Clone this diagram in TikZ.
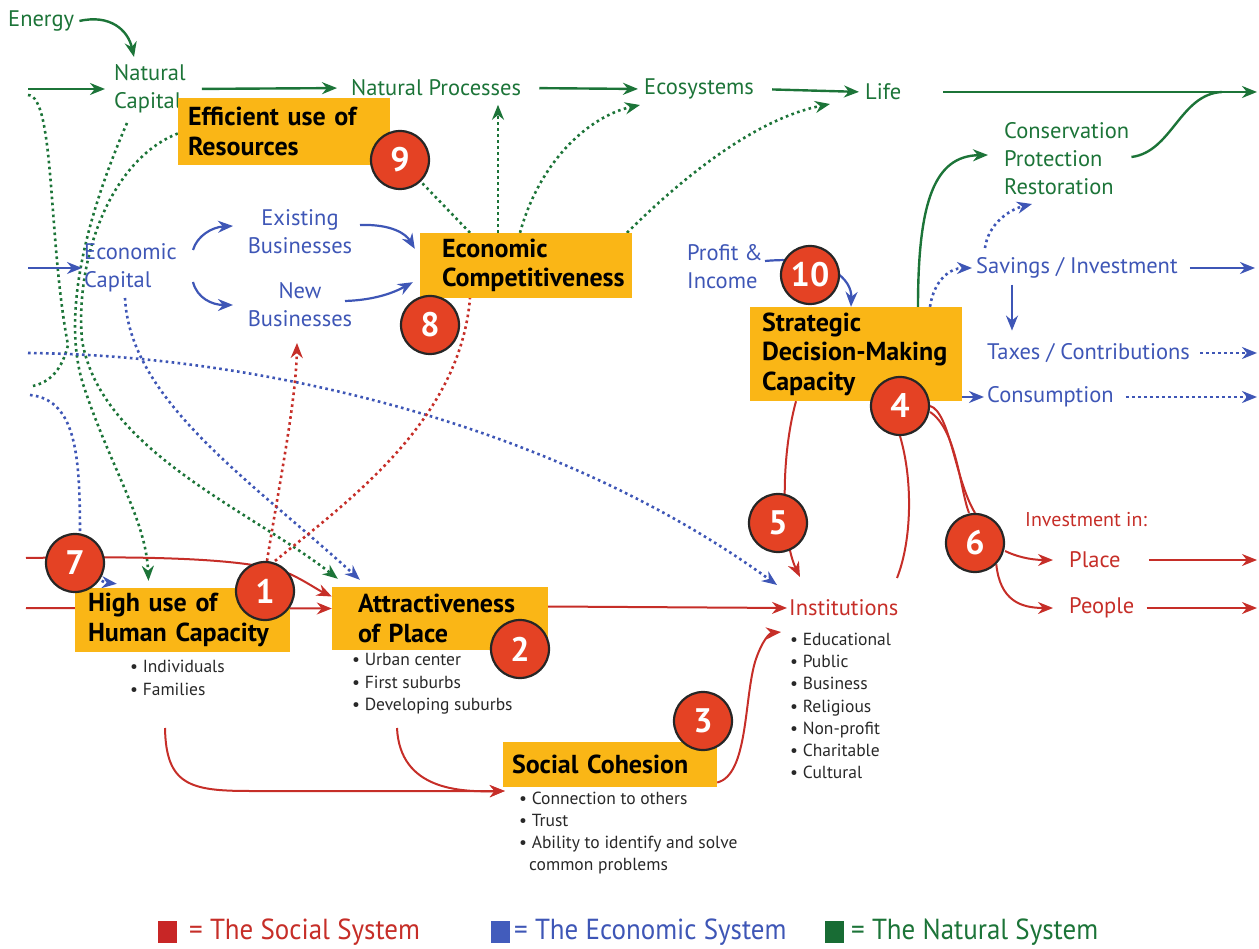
\documentclass[tikz,border=0pt]{standalone}
\usepackage{fontspec}
\setmainfont{PT Sans}
\newfontfamily\legendfont[FakeStretch=0.93]{PT Sans}
\usetikzlibrary{arrows.meta}
\pgfdeclarelayer{links}
\pgfsetlayers{links,main}
\definecolor{natgreen}{RGB}{28,116,56}
\definecolor{ecoblue}{RGB}{62,86,182}
\definecolor{socred}{RGB}{198,46,40}
\definecolor{boxgold}{RGB}{250,182,22}
\definecolor{numred}{RGB}{228,66,36}
\definecolor{bullettxt}{RGB}{40,40,40}
\definecolor{keyred}{RGB}{200,38,38}
\definecolor{keyblue}{RGB}{66,92,188}
\definecolor{keygreen}{RGB}{24,108,52}

\begin{document}
\begin{tikzpicture}[x=1pt,y=-1pt,
  >={Stealth[length=15pt,width=12pt]},
  lbl/.style={inner sep=2pt,anchor=west,align=left,font=\fontsize{22.5}{28}\selectfont},
  gtxt/.style={lbl,text=natgreen},
  btxt/.style={lbl,text=ecoblue},
  rtxt/.style={lbl,text=socred},
  goldbox/.style={fill=boxgold,inner ysep=0pt,align=left,font=\fontsize{26}{29.5}\selectfont\bfseries},
  blist/.style={inner sep=0pt,anchor=west,align=left,text=bullettxt,font=\fontsize{17.5}{22.3}\selectfont},
  num/.style={circle,draw=black!85,line width=2.2pt,fill=numred,text=white,minimum size=58pt,inner sep=0pt,font=\fontsize{34}{34}\selectfont\bfseries},
  gsolid/.style={draw=natgreen,line width=2.4pt},
  bsolid/.style={draw=ecoblue,line width=2.2pt},
  rsolid/.style={draw=socred,line width=2pt},
  dotline/.style={line width=2.6pt,dash pattern=on 2.6pt off 3.4pt},
  gdot/.style={dotline,draw=natgreen},
  bdot/.style={dotline,draw=ecoblue},
  rdot/.style={dotline,draw=socred},
  keysq/.style={minimum width=19pt,minimum height=22pt,inner sep=0pt},
  keytxt/.style={anchor=west,inner sep=0pt,font=\legendfont\fontsize{29}{29}\selectfont}
]
\useasboundingbox (0,0) rectangle (1259,949);

% ---------- natural system labels ----------
\node[gtxt] (energy) at (6,21) {Energy};
\node[gtxt] (natcap) at (112,89) {Natural\\Capital};
\node[gtxt] (natproc) at (349,88) {Natural Processes};
\node[gtxt] (eco) at (642,89) {Ecosystems};
\node[gtxt] (life) at (863,92) {Life};
\node[gtxt] (cons) at (1002,159) {Conservation\\Protection\\Restoration};

% ---------- economic system labels ----------
\node[btxt] (ecap) at (82,268) {Economic\\Capital};
\node[btxt,anchor=center,align=center] (exist) at (300,232) {Existing\\Businesses};
\node[btxt,anchor=center,align=center] (newb) at (300,305) {New\\Businesses};
\node[btxt] (profit) at (685,267) {Profit \&\\Income};
\node[btxt] (savings) at (974,268) {Savings / Investment};
\node[btxt] (taxes) at (985,353) {Taxes / Contributions};
\node[btxt] (consum) at (985,397) {Consumption};

% ---------- social system labels ----------
\node[rtxt] (inst) at (787,608) {Institutions};
\node[blist] (instlist) at (790,706) {\textbullet\ Educational\\\textbullet\ Public\\\textbullet\ Business\\\textbullet\ Religious\\\textbullet\ Non-profit\\\textbullet\ Charitable\\\textbullet\ Cultural};
\node[rtxt,font=\fontsize{20}{22}\selectfont] (invest) at (1023,520) {Investment in:};
\node[rtxt] (place) at (1067,560) {Place};
\node[rtxt] (people) at (1067,608) {People};

% ---------- key boxes ----------
\node[goldbox,minimum width=212pt,minimum height=67pt,inner xsep=10pt,text width=192pt] (effbox) at (284,131.5) {Efficient use of\\Resources};
\node[goldbox,minimum width=212pt,minimum height=65pt,inner xsep=22pt,text width=168pt] (ecbox) at (526,265.5) {Economic\\Competitiveness};
\node[goldbox,minimum width=212pt,minimum height=94pt,inner xsep=12pt,text width=188pt] (sdbox) at (856,354) {Strategic\\Decision-Making\\Capacity};
\node[goldbox,minimum width=215pt,minimum height=64pt,inner xsep=13pt,text width=189pt] (hubox) at (182.5,620) {High use of\\Human Capacity};
\node[goldbox,minimum width=216pt,minimum height=63pt,inner xsep=26pt,text width=164pt] (atbox) at (440,618.5) {Attractiveness\\of Place};
\node[goldbox,minimum width=214pt,minimum height=45pt,inner xsep=9pt,text width=196pt] (scbox) at (610,764.5) {Social Cohesion};

\node[blist] (hulist) at (130,678) {\textbullet\ Individuals\\\textbullet\ Families};
\node[blist] (atlist) at (352,684) {\textbullet\ Urban center\\\textbullet\ First suburbs\\\textbullet\ Developing suburbs};
\node[blist] (sclist) at (519,833) {\textbullet\ Connection to others\\\textbullet\ Trust\\\textbullet\ Ability to identify and solve\\\hspace*{10pt}common problems};

% ---------- numbered markers ----------
\node[num] (c1) at (265,591) {1};
\node[num] (c2) at (520,649) {2};
\node[num] (c3) at (703,721) {3};
\node[num] (c4) at (900,406) {4};
\node[num] (c5) at (778,523) {5};
\node[num] (c6) at (975,543) {6};
\node[num] (c7) at (75,563) {7};
\node[num] (c8) at (430,325) {8};
\node[num] (c9) at (400,160) {9};
\node[num] (c10) at (810,275) {10};

% ---------- legend ----------
\node[keysq,fill=keyred] (keysoc) at (167.5,932) {};
\node[keytxt,text=socred] (keysoctxt) at (189,932) {= The Social System};
\node[keysq,fill=keyblue] (keyeco) at (500.5,932) {};
\node[keytxt,text=ecoblue] (keyecotxt) at (514,932) {= The Economic System};
\node[keysq,fill=keygreen] (keynat) at (834.5,932) {};
\node[keytxt,text=natgreen] (keynattxt) at (851,932) {= The Natural System};

% ---------- free ends and attachment points ----------
\coordinate (gIn) at (28,89);
\coordinate (gOut) at (1257,92);
\coordinate (gMerge) at (1222,92);
\coordinate (gLoopIn) at (28,95);
\coordinate (gLoopOut) at (33,386);
\coordinate (nctop) at (134,57);
\coordinate (ncbot) at (127,123);
\coordinate (consIn) at (988,155);
\coordinate (ecoIn) at (640,105);
\coordinate (lifeIn) at (830,104);
\coordinate (bIn) at (28,268);
\coordinate (bLongIn) at (28,353);
\coordinate (bLowIn) at (30,395);
\coordinate (bSaveOut) at (1255,268);
\coordinate (bTaxOut) at (1257,353);
\coordinate (bConOut) at (1257,397);
\coordinate (ecbot) at (125,298);
\coordinate (ecapUp) at (193,250);
\coordinate (ecapDn) at (193,282);
\coordinate (existIn) at (233,226);
\coordinate (newIn) at (233,305);
\coordinate (existOut) at (360,225);
\coordinate (newOut) at (345,301);
\coordinate (saveUp) at (985,248);
\coordinate (restIn) at (1032,204);
\coordinate (instIn) at (777,585);
\coordinate (instIn2) at (781,632);
\coordinate (inst5) at (800,577);
\coordinate (instTop) at (897,578);
\coordinate (newBot) at (297,343);
\coordinate (huTail) at (165,728);
\coordinate (atTail) at (397,728);
\coordinate (rTopIn) at (26,558);
\coordinate (rMidIn) at (26,608);
\coordinate (rPlaceOut) at (1257,560);
\coordinate (rPeopleOut) at (1257,608);

\begin{pgfonlayer}{links}
% natural system: solid flows
\draw[gsolid,->] ([xshift=3pt]energy.east) .. controls (110,14) and (128,30) .. (nctop);
\draw[gsolid,->] (gIn) -- ([xshift=-7pt]natcap.west);
\draw[gsolid,->,shorten <=14pt,shorten >=12pt] (natcap.east) -- (natproc.west);
\draw[gsolid,->,shorten <=16pt,shorten >=4pt] (natproc.east) -- (eco.west);
\draw[gsolid,->,shorten <=16pt,shorten >=4pt] (eco.east) -- (life.west);
\draw[gsolid,->,shorten <=40pt] (life.east) -- (gOut);
\draw[gsolid] ([yshift=2pt]cons.east) .. controls (1172,152) and (1180,94) .. (gMerge);
\draw[gsolid,->] ([xshift=62pt]sdbox.north) .. controls (918,200) and (935,156) .. (consIn);

% natural system: dotted influences
\draw[gdot] ([xshift=-56pt]ecbox.north) -- (c9);
\draw[gdot,->] ([xshift=-28pt]ecbox.north) -- ++(0,-128);
\draw[gdot,->] ([xshift=-6pt]ecbox.north) .. controls (540,160) and (590,116) .. (ecoIn);
\draw[gdot,->] ([xshift=101pt]ecbox.north) .. controls (690,170) and (760,118) .. (lifeIn);
\draw[gdot] (gLoopIn) .. controls (55,96) and (48,240) .. (68,345) .. controls (62,370) and (50,382) .. (gLoopOut);
\draw[gdot,->] (ncbot) .. controls (85,220) and (60,320) .. (85,390) .. controls (112,470) and (146,520) .. ([xshift=-34pt,yshift=7pt]hubox.north);
\draw[gdot,->] ([yshift=-2pt]effbox.west) .. controls (110,160) and (75,260) .. (82,340) .. controls (100,450) and (250,510) .. ([xshift=6pt,yshift=8pt]atbox.north west);

% economic system: dotted influences
\draw[bdot,->] (ecbot) .. controls (130,400) and (250,480) .. ([xshift=28pt,yshift=7pt]atbox.north west);
\draw[bdot,->] (bLongIn) .. controls (250,355) and (550,420) .. (instIn);
\draw[bdot,->] (bLowIn) .. controls (78,400) and (80,460) .. (80,540) .. controls (82,572) and (100,582) .. ([xshift=42pt,yshift=4pt]hubox.north west);
\draw[bdot,->] ([xshift=74pt]sdbox.north) .. controls (934,280) and (950,268) .. ([xshift=-2pt]savings.west);
\draw[bdot,->] (saveUp) .. controls (988,225) and (1008,210) .. (restIn);
\draw[bdot,->,shorten <=8pt] (taxes.east) -- (bTaxOut);
\draw[bdot,->,shorten <=10pt] (consum.east) -- (bConOut);

% economic system: solid flows
\draw[bsolid,->] (bIn) -- (ecap.west);
\draw[bsolid,->] (ecapUp) .. controls (197,236) and (212,227) .. (existIn);
\draw[bsolid,->] (ecapDn) .. controls (197,298) and (212,305) .. (newIn);
\draw[bsolid,->] (existOut) .. controls (392,224) and (406,234) .. ([xshift=-5pt,yshift=-16pt]ecbox.north west);
\draw[bsolid,->] (newOut) .. controls (376,300) and (395,292) .. ([xshift=-7pt,yshift=16pt]ecbox.south west);
\draw[bsolid,->] ([yshift=6pt]profit.east) .. controls (830,255) and (852,280) .. ([xshift=-5pt]sdbox.north);
\draw[bsolid,->,shorten <=10pt] (savings.east) -- (bSaveOut);
\draw[bsolid,->] ([xshift=38pt,yshift=-4pt]savings.south west) -- ++(0,46);
\draw[bsolid,->] (sdbox.east |- consum.west) -- ([xshift=-1pt]consum.west);

% social system: solid flows
\draw[rsolid,->] (rTopIn) .. controls (150,556) and (250,558) .. (290,574) .. controls (305,581) and (318,590) .. ([yshift=22pt]atbox.west);
\draw[rsolid,->] (rMidIn) -- ([yshift=10pt]atbox.west);
\draw[rsolid,->] ([yshift=12pt]atbox.east) -- (inst.west);
\draw[rsolid,->] (huTail) .. controls (166,785) and (190,791) .. (250,791) -- ([xshift=2pt,yshift=-26.5pt]scbox.west);
\draw[rsolid,->] (atTail) .. controls (400,790) and (460,792) .. ([xshift=2pt,yshift=-26.5pt]scbox.west);
\draw[rsolid,->] ([yshift=-18pt]scbox.east) .. controls (748,775) and (744,700) .. (755,662) .. controls (762,640) and (770,633) .. (instIn2);
\draw[rsolid,->] ([xshift=-60pt]sdbox.south) .. controls (780,460) and (782,540) .. (inst5);
\draw[rsolid] (c4.south) .. controls (913,480) and (912,540) .. (instTop);
\draw[rsolid] (c4.east) .. controls (950,412) and (955,480) .. (c6.north);
\draw[rsolid] ([yshift=-6pt]c4.east) .. controls (957,430) and (960,490) .. ([xshift=-6pt]c6.north);
\draw[rsolid,->] ([yshift=-8pt]c6.east) .. controls (1015,556) and (1030,560) .. ([xshift=-14pt]place.west);
\draw[rsolid,->] (c6.south east) .. controls (1000,600) and (1020,608) .. ([xshift=-14pt]people.west);
\draw[rsolid,->,shorten <=26pt] (place.east) -- (rPlaceOut);
\draw[rsolid,->,shorten <=10pt] (people.east) -- (rPeopleOut);

% social system: dotted influences
\draw[rdot,->] ([xshift=2pt]c1.north) .. controls (280,480) and (296,400) .. (newBot);
\draw[rdot] ([xshift=10pt]c1.north) .. controls (350,500) and (460,420) .. ([xshift=-56pt]ecbox.south);
\end{pgfonlayer}
\end{tikzpicture}
\end{document}
